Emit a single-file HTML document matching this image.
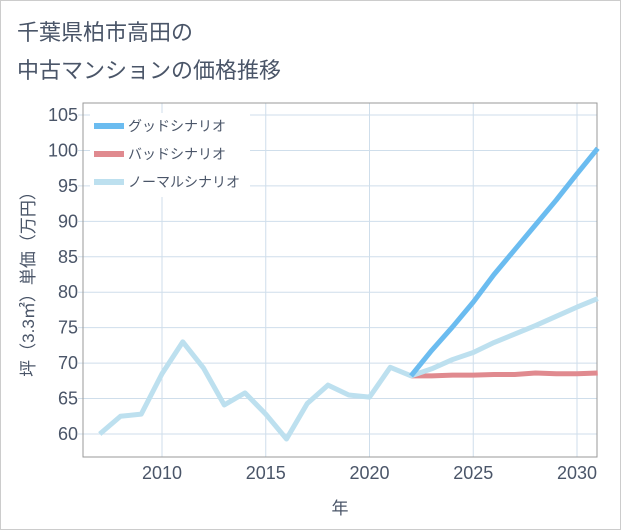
<!DOCTYPE html>
<html><head><meta charset="utf-8"><style>
body{margin:0;background:#fff;}
#c{position:relative;width:619px;height:528px;border:1px solid #ccc;background:#fff;font-family:"Liberation Sans","Noto Sans CJK JP",sans-serif;}
.t{position:absolute;left:16px;color:#4a5568;font-size:22px;font-weight:normal;}
</style></head><body>
<div id="c">
<div class="t" style="top:14px">千葉県柏市高田の</div>
<div class="t" style="top:52px">中古マンションの価格推移</div>
<svg id="s" width="621" height="530" style="position:absolute;left:-1px;top:-1px"></svg>
</div>
<script>
const years=[2007,2008,2009,2010,2011,2012,2013,2014,2015,2016,2017,2018,2019,2020,2021,2022,2023,2024,2025,2026,2027,2028,2029,2030,2031];
const normal=[60,62.5,62.8,68.5,73,69.3,64.1,65.8,62.8,59.3,64.3,66.9,65.5,65.2,69.4,68.2,69.2,70.5,71.5,72.9,74.1,75.3,76.6,77.9,79.1];
const goodYears=[2022,2023,2024,2025,2026,2027,2028,2029,2030,2031];
const good=[68.2,71.8,75.1,78.6,82.5,86.0,89.5,93.0,96.7,100.3];
const bad=[68.2,68.2,68.3,68.3,68.4,68.4,68.6,68.5,68.5,68.6];
const yTicks=[60,65,70,75,80,85,90,95,100,105];
const xTicks=[2010,2015,2020,2025,2030];
const L=83,R=597,T=103,B=457;
const TC='#4a5568';
const x=v=>162+(v-2010)*20.75;
const y=v=>434-(v-60)*(319/45);
const s=document.getElementById('s');const NS='http://www.w3.org/2000/svg';
function mk(tag,attrs,name,parent){const e=document.createElementNS(NS,tag);for(const k in attrs)e.setAttribute(k,attrs[k]);


(parent||s).appendChild(e);return e;}
mk('rect',{x:L,y:T,width:R-L,height:B-T,fill:'#fff'},'plot-area');
xTicks.forEach(v=>{mk('line',{x1:x(v),x2:x(v),y1:T,y2:B,stroke:'#cfdeeb','stroke-width':1},'x-grid-line');
const t=mk('text',{x:x(v),y:B+22,'text-anchor':'middle','font-size':18,fill:TC},'x-tick-label');t.textContent=v;});
yTicks.forEach(v=>{mk('line',{x1:L-5,x2:R,y1:y(v),y2:y(v),stroke:'#cfdeeb','stroke-width':1},'y-grid-line');
const t=mk('text',{x:78,y:y(v)+6,'text-anchor':'end','font-size':18,fill:TC},'y-tick-label');t.textContent=v;});
mk('rect',{x:L,y:T,width:R-L,height:B-T,fill:'none',stroke:'#999','stroke-width':1},'plot-border');
function line(xs,ys,col,name){mk('polyline',{points:xs.map((v,i)=>x(v)+','+y(ys[i])).join(' '),fill:'none',stroke:col,'stroke-width':5,'stroke-linejoin':'round'},name);}
line(goodYears,bad,'#e08a8f','bad-scenario-line');
line(years,normal,'#bde0ef','normal-scenario-line');
line(goodYears,good,'#6bbcf0','good-scenario-line');
const lg=[['グッドシナリオ','#6bbcf0'],['バッドシナリオ','#e08a8f'],['ノーマルシナリオ','#bde0ef']];
mk('rect',{x:90,y:113,width:160,height:84,fill:'#fff'},'legend-bg');
lg.forEach((d,i)=>{const yy=126+i*28;mk('rect',{x:94,y:yy-3,width:30,height:6,fill:d[1]},'legend-swatch');
const t=mk('text',{x:128,y:yy+5,'font-size':14,fill:TC},'legend-entry');t.textContent=d[0];});
const yt=mk('text',{x:0,y:0,'font-size':17,fill:TC,'text-anchor':'middle',transform:'translate(34,280) rotate(-90)'},'y-axis-title');yt.textContent='坪（3.3㎡）単価（万円）';
const xt=mk('text',{x:340,y:514,'font-size':17,fill:TC,'text-anchor':'middle'},'x-axis-title');xt.textContent='年';
</script>
</body></html>
